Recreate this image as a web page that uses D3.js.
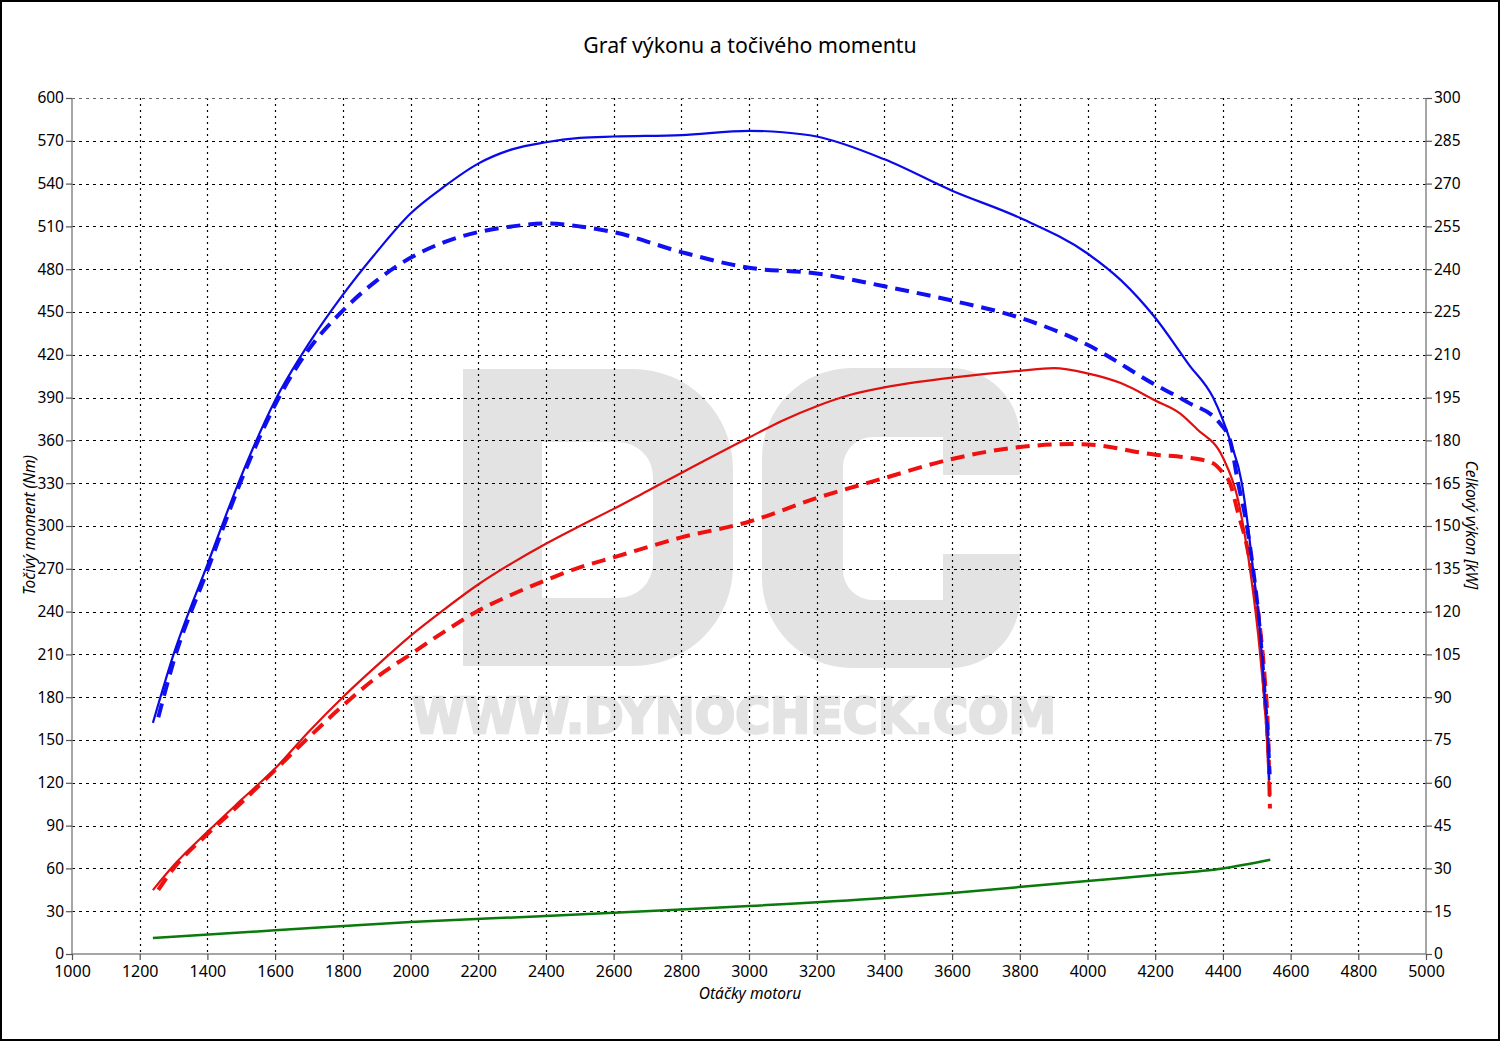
<!DOCTYPE html>
<html><head><meta charset="utf-8">
<script src="https://cdn.jsdelivr.net/npm/d3@7"></script>
<style>
body{margin:0;background:#fff;}
svg text{font-family:"Noto Sans","Open Sans",sans-serif;fill:#000;}
</style></head>
<body><svg id="c" width="1500" height="1041"></svg>
<script>
const title = "Graf výkonu a točivého momentu";
const xLabel = "Otáčky motoru";
const yLabelLeft = "Točivý moment (Nm)";
const yLabelRight = "Celkový výkon [kW]";
const watermarkText = "WWW.DYNOCHECK.COM";
const xTicks = [1000,1200,1400,1600,1800,2000,2200,2400,2600,2800,3000,3200,3400,3600,3800,4000,4200,4400,4600,4800,5000];
const torqueTicks = [0,30,60,90,120,150,180,210,240,270,300,330,360,390,420,450,480,510,540,570,600];
const powerTicks = [0,15,30,45,60,75,90,105,120,135,150,165,180,195,210,225,240,255,270,285,300];

// tuned torque (Nm) - blue solid
const torqueTunedRpm = [1239,1300,1400,1500,1600,1700,1800,1900,2000,2100,2200,2300,2400,2500,2600,2800,3000,3100,3200,3400,3600,3800,4000,4100,4200,4300,4371,4421,4456,4474,4489,4504,4515,4524,4533,4537];
const torqueTuned    = [162,210,273,335,388,428,462,492,519,538,554,564,569,572,573,574,577,576,573,557,535,516,491,472,446,413,390,360,330,300,270,240,210,180,150,122];
// stock torque (Nm) - blue dashed
const torqueStockRpm = [1255,1300,1400,1500,1600,1700,1800,1900,2000,2100,2200,2300,2400,2500,2600,2800,3000,3200,3400,3600,3800,4000,4200,4294,4391,4421,4445,4471,4489,4504,4515,4524,4533,4538];
const torqueStock    = [166,205,269,332,385,424,451,472,488,499,506,510,512,510,506,492,481,477,468,458,446,427,399,387,372,360,330,300,270,240,210,180,150,126];
// tuned power (kW) - red solid
const powerTunedRpm = [1239,1300,1400,1500,1600,1700,1800,1900,2000,2100,2200,2300,2400,2500,2600,2700,2800,3000,3100,3200,3300,3400,3500,3600,3800,3900,4000,4100,4200,4273,4323,4400,4445,4480,4510,4530,4538];
const powerTuned    = [22.4,31,42.8,54,65,78,90,101,111.5,120.8,129.5,137,143.8,150,156,162.3,168.6,181,187,192,196,198.6,200.5,202,204.4,205.3,203.5,200,194,189.5,184,174,159,135,105,75,55];
// stock power (kW) - red dashed
const powerStockRpm = [1255,1300,1400,1500,1600,1700,1800,1900,2000,2100,2200,2300,2400,2500,2600,2800,3000,3200,3400,3600,3800,3960,4000,4200,4294,4371,4400,4421,4445,4471,4489,4510,4524,4533,4539];
const powerStock    = [22.5,30,42,53,64.5,76,87,97,105,113,120.3,126,131,135.5,139,146,151.5,159.8,166.8,173.5,177.7,178.7,178.6,175,174,172,168.6,165,154.5,143,131,114,96,78.5,51];
// loss power (kW) - green
const lossRpm = [1239,1600,2000,2400,2800,3000,3400,3600,4000,4200,4400,4540];
const loss    = [5.6,8.3,11.2,13.3,15.6,16.8,19.6,21.4,25.6,27.7,30,33];

const svg = d3.select("#c");
const L=72, R=1426, T=98, B=954;
const x = d3.scaleLinear().domain([1000,5000]).range([L,R]);
const yT = d3.scaleLinear().domain([0,600]).range([B,T]);
const yP = d3.scaleLinear().domain([0,300]).range([B,T]);

// outer border
svg.append("rect").attr("x",1).attr("y",1).attr("width",1498).attr("height",1039)
  .attr("fill","#fff").attr("stroke","#000").attr("stroke-width",2);

// watermark "DC" logo
const wm = svg.append("g").attr("fill","#e3e3e3");
const pD = d3.path();
pD.moveTo(463,369); pD.lineTo(633,369); pD.arcTo(733,369,733,469,100); pD.lineTo(733,566); pD.arcTo(733,666,633,666,100); pD.lineTo(463,666); pD.closePath();
pD.moveTo(542,442); pD.lineTo(618,442); pD.arcTo(653,442,653,477,35); pD.lineTo(653,563); pD.arcTo(653,598,618,598,35); pD.lineTo(542,598); pD.closePath();
wm.append("path").attr("d",pD.toString()).attr("fill-rule","evenodd");
const pC = d3.path();
pC.moveTo(852,368); pC.lineTo(950,368); pC.arcTo(1020,368,1020,438,70); pC.lineTo(1020,475);
pC.lineTo(943,475); pC.lineTo(943,437); pC.lineTo(873,437); pC.arcTo(843,437,843,467,30); pC.lineTo(843,570); pC.arcTo(843,600,873,600,30);
pC.lineTo(943,600); pC.lineTo(943,554); pC.lineTo(1020,554); pC.lineTo(1020,598); pC.arcTo(1020,668,950,668,70);
pC.lineTo(852,668); pC.arcTo(762,668,762,578,90); pC.lineTo(762,458); pC.arcTo(762,368,852,368,90); pC.closePath();
wm.append("path").attr("d",pC.toString());
wm.append("text").attr("x",412).attr("y",733).attr("textLength",644).attr("lengthAdjust","spacingAndGlyphs")
  .style("font-family","'DejaVu Sans'").style("font-weight","bold").style("font-size","49px")
  .style("fill","#e3e3e3").style("stroke","#e3e3e3").style("stroke-width","2.5px")
  .text(watermarkText);

// grid
const grid = svg.append("g").attr("stroke","#000").attr("stroke-width",1.2);
xTicks.slice(1,-1).forEach(v=>grid.append("line").attr("x1",Math.round(x(v))+0.5).attr("x2",Math.round(x(v))+0.5).attr("y1",T).attr("y2",B).attr("stroke-dasharray","2,4"));
torqueTicks.slice(1).forEach(v=>grid.append("line").attr("x1",L).attr("x2",R).attr("y1",Math.round(yT(v))+0.5).attr("y2",Math.round(yT(v))+0.5).attr("stroke-dasharray","3,4").attr("stroke", v===600?"#666":"#000"));

// frame
const fr = svg.append("g").attr("stroke","#888").attr("stroke-width",1.5).attr("fill","none");
fr.append("line").attr("x1",L).attr("x2",L).attr("y1",T).attr("y2",B);
fr.append("line").attr("x1",R).attr("x2",R).attr("y1",T).attr("y2",B);
fr.append("line").attr("x1",L).attr("x2",R).attr("y1",B).attr("y2",B);

// lines
function draw(rpm, vals, ys, color, width, dash){
  const data = rpm.map((r,i)=>[r,vals[i]]);
  const line = d3.line().x(d=>x(d[0])).y(d=>ys(d[1])).curve(d3.curveMonotoneX);
  const p = svg.append("path").datum(data).attr("d",line).attr("fill","none")
    .attr("stroke",color).attr("stroke-width",width).attr("stroke-linejoin","round");
  if(dash) p.attr("stroke-dasharray",dash);
}
draw(lossRpm, loss, yP, "#0a7a0a", 2.5);
draw(powerStockRpm, powerStock, yP, "#f01010", 4, "14,8");
draw(torqueStockRpm, torqueStock, yT, "#1010f0", 4, "14,8");
draw(powerTunedRpm, powerTuned, yP, "#e01010", 2.2);
draw(torqueTunedRpm, torqueTuned, yT, "#0a0ae8", 2.2);

// axes
function styleAxis(size){
  return g=>{
    g.select(".domain").remove();
    g.selectAll(".tick line").attr("stroke","#555").attr("stroke-width",1.2);
    g.selectAll(".tick text").style("font-size",size).style("font-family","'Noto Sans'").attr("fill","#000");
  };
}
svg.append("g").attr("transform",`translate(${L},0)`)
  .call(d3.axisLeft(yT).tickValues(torqueTicks).tickSize(6).tickPadding(2)).call(styleAxis("15.5px"));
svg.append("g").attr("transform",`translate(${R},0)`)
  .call(d3.axisRight(yP).tickValues(powerTicks).tickSize(6).tickPadding(2)).call(styleAxis("15.5px"));
svg.append("g").attr("transform",`translate(0,${B})`)
  .call(d3.axisBottom(x).tickValues(xTicks).tickFormat(d3.format("d")).tickSize(6).tickPadding(6)).call(styleAxis("16px"));

// labels
svg.append("text").attr("x",750).attr("y",53).attr("text-anchor","middle").style("font-size","21.3px").text(title);
svg.append("text").attr("x",750).attr("y",999).attr("text-anchor","middle").style("font-size","15.5px").style("font-style","italic").text(xLabel);
svg.append("text").attr("transform","translate(35,525) rotate(-90)").attr("text-anchor","middle").style("font-size","15.5px").style("font-style","italic").text(yLabelLeft);
svg.append("text").attr("transform","translate(1466,525) rotate(90)").attr("text-anchor","middle").style("font-size","15.5px").style("font-style","italic").text(yLabelRight);
</script></body></html>
